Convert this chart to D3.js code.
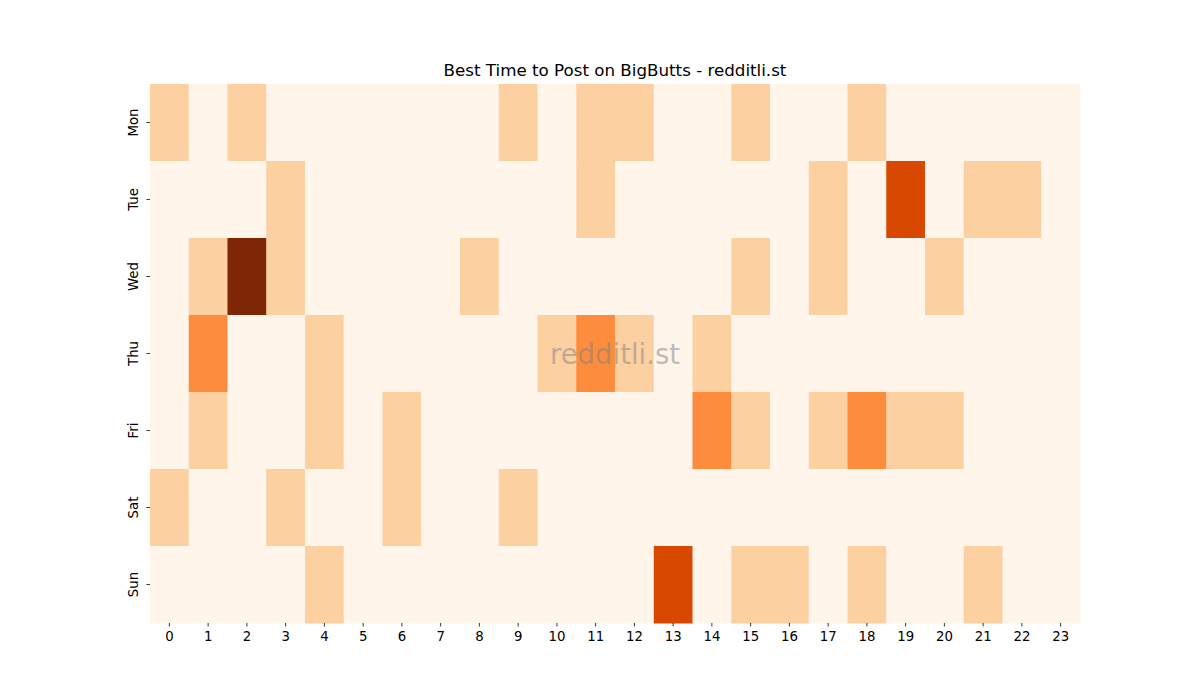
<!DOCTYPE html>
<html>
<head>
<meta charset="utf-8">
<script src="https://cdn.jsdelivr.net/npm/d3@7"></script>
<style>
  body { margin: 0; background: #fff; }
  text { font-family: "DejaVu Sans", sans-serif; }
</style>
</head>
<body>
<div id="vis"></div>
<script>
// hours along x, days along y
var hours = d3.range(24).map(String);
var days = ["Mon", "Tue", "Wed", "Thu", "Fri", "Sat", "Sun"];

// post counts per day, one value per hour
var mon = [1,0,1,0,0,0,0,0,0,1,0,1,1,0,0,1,0,0,1,0,0,0,0,0];
var tue = [0,0,0,1,0,0,0,0,0,0,0,1,0,0,0,0,0,1,0,3,0,1,1,0];
var wed = [0,1,4,1,0,0,0,0,1,0,0,0,0,0,0,1,0,1,0,0,1,0,0,0];
var thu = [0,2,0,0,1,0,0,0,0,0,1,2,1,0,1,0,0,0,0,0,0,0,0,0];
var fri = [0,1,0,0,1,0,1,0,0,0,0,0,0,0,2,1,0,1,2,1,1,0,0,0];
var sat = [1,0,0,1,0,0,1,0,0,1,0,0,0,0,0,0,0,0,0,0,0,0,0,0];
var sun = [0,0,0,0,1,0,0,0,0,0,0,0,0,3,0,1,1,0,1,0,0,1,0,0];
var rows = [mon, tue, wed, thu, fri, sat, sun];

var cells = [];
rows.forEach(function(r, i) {
    r.forEach(function(v, j) {
        cells.push({day: days[i], hour: hours[j], value: v});
    });
});

var svg = d3.select("#vis").append("svg")
    .attr("width", 1200).attr("height", 700);

var plotL = 150, plotR = 1080, plotT = 84, plotB = 623;

var x = d3.scaleBand().domain(hours).range([plotL, plotR]);
var y = d3.scaleBand().domain(days).range([plotT, plotB]);

// matplotlib "Oranges"
var oranges = ["#fff5eb","#fee6ce","#fdd0a2","#fdae6b","#fd8d3c","#f16913","#d94801","#a63603","#7f2704"];
var maxV = d3.max(cells, d => d.value);
var color = d3.scaleLinear()
    .domain(d3.range(oranges.length).map(i => i * maxV / (oranges.length - 1)))
    .range(oranges);

svg.selectAll("rect.cell")
    .data(cells)
    .enter().append("rect")
    .attr("class", "cell")
    .attr("x", d => x(d.hour))
    .attr("y", d => y(d.day))
    .attr("width", x.bandwidth() + 0.5)
    .attr("height", y.bandwidth() + 0.5)
    .attr("fill", d => color(d.value));

var xAxis = svg.append("g")
    .attr("transform", "translate(0," + plotB + ")")
    .call(d3.axisBottom(x).tickSize(3.5).tickPadding(3.5));
var yAxis = svg.append("g")
    .attr("transform", "translate(" + plotL + ",0)")
    .call(d3.axisLeft(y).tickSize(3.5).tickPadding(3.5));

[xAxis, yAxis].forEach(function(a) {
    a.attr("font-size", null);
    a.select(".domain").remove();
    a.selectAll("line").attr("stroke", "#000").attr("stroke-width", 0.8);
    a.selectAll("text").attr("font-size", "13.3px").attr("fill", "#000")
        .style("font-family", "DejaVu Sans, sans-serif");
});
xAxis.selectAll(".tick text").attr("dy", "0.71em").attr("y", 9);

// rotate day labels like seaborn
yAxis.selectAll(".tick text")
    .attr("text-anchor", "middle")
    .attr("x", 0).attr("y", 0).attr("dy", 0)
    .attr("transform", "translate(-12.5,0) rotate(-90)");

svg.append("text")
    .attr("x", (plotL + plotR) / 2).attr("y", 76)
    .attr("text-anchor", "middle")
    .attr("font-size", "16.7px")
    .text("Best Time to Post on BigButts - redditli.st");

svg.append("text")
    .attr("x", (plotL + plotR) / 2).attr("y", (plotT + plotB) / 2)
    .attr("text-anchor", "middle")
    .attr("dominant-baseline", "central")
    .attr("font-size", "27.5px")
    .attr("fill", "#808080").attr("fill-opacity", 0.5)
    .text("redditli.st");
</script>
</body>
</html>
